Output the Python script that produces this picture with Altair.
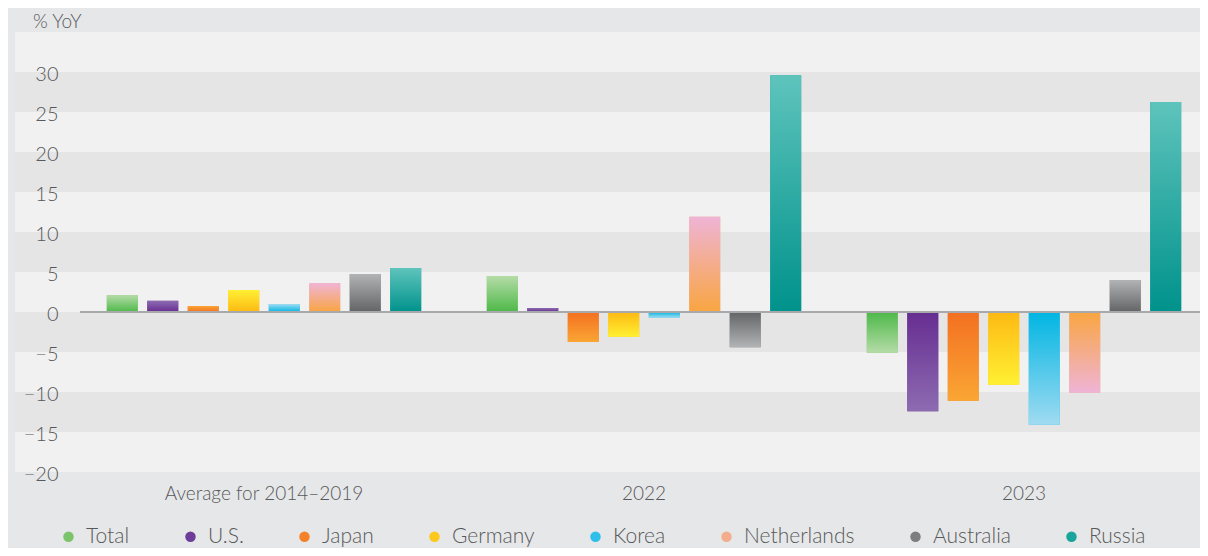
import altair as alt
import pandas as pd

# ---------------- data ----------------
groups = ["Average for 2014–2019", "2022", "2023"]
countries = ["Total", "U.S.", "Japan", "Germany", "Korea", "Netherlands", "Australia", "Russia"]
avg_vals = [2.1, 1.4, 0.75, 2.75, 1.0, 3.6, 4.75, 5.5]
y2022_vals = [4.5, 0.5, -3.75, -3.1, -0.7, 11.9, -4.4, 29.6]
y2023_vals = [-5.1, -12.4, -11.1, -9.1, -14.1, -10.1, 4.0, 26.25]

# colour at the zero line and at the tip of each bar
zero_colors = ["#4db848", "#662d91", "#f37021", "#fdb913", "#00b5e2", "#f9a541", "#636466", "#00928c"]
tip_colors = ["#b5dca8", "#8d6bb1", "#faa634", "#fff033", "#a0dbf2", "#efb4d6", "#b2b3b5", "#5ec4bc"]
legend_colors = ["#7cc46b", "#6e3d99", "#f5822a", "#fdc81e", "#2ec0ea", "#f4ad8c", "#7d7e80", "#1aa59c"]

band_lo = [-20, -15, -10, -5, 0, 5, 10, 15, 20, 25, 30]
band_hi = [-15, -10, -5, 0, 5, 10, 15, 20, 25, 30, 35]
band_shade = ["light", "dark", "light", "dark", "light", "dark", "light", "dark", "light", "dark", "light"]
y_ticks = [-20, -15, -10, -5, 0, 5, 10, 15, 20, 25, 30]

rows = []
for g, vals in zip(groups, [avg_vals, y2022_vals, y2023_vals]):
    for c, v in zip(countries, vals):
        rows.append({"group": g, "country": c, "value": v})
df = pd.DataFrame(rows)
bands = pd.DataFrame({"lo": band_lo, "hi": band_hi, "shade": band_shade})

FONT = "Lato"
TXT = "#58595b"
W, H = 1185, 440

yscale = alt.Scale(domain=[-20, 35], nice=False, zero=False)

band_layer = alt.Chart(bands).mark_rect().encode(
    y=alt.Y("lo:Q", scale=yscale, axis=alt.Axis(
        values=y_ticks, orient="left", offset=-43, labelPadding=0, zindex=1,
        domain=False, ticks=False, grid=False, title=None,
        labelFontSize=20, labelFont=FONT, labelFontWeight=300, labelColor=TXT,
        labelBaseline="middle", labelOffset=2)),
    y2="hi:Q",
    color=alt.Color("shade:N", scale=alt.Scale(domain=["light", "dark"], range=["#f1f1f1", "#e5e5e5"]), legend=None),
)

xenc = alt.X("group:N", sort=groups,
             scale=alt.Scale(range=[59, 1199], paddingInner=0, paddingOuter=0),
             axis=alt.Axis(title=None, domain=False, ticks=False, labelAngle=0,
                           labelFontSize=19, labelFont=FONT, labelFontWeight=300,
                           labelColor=TXT, labelPadding=12, labelLimit=0))
xoff = alt.XOffset("country:N", sort=countries,
                   scale=alt.Scale(paddingInner=0.235, paddingOuter=0.81))

base = alt.Chart(df)

solid = base.mark_bar().encode(
    x=xenc, xOffset=xoff,
    y=alt.Y("value:Q", scale=yscale),
    y2=alt.datum(0),
    color=alt.Color("country:N", sort=countries,
                    scale=alt.Scale(domain=countries, range=legend_colors),
                    legend=alt.Legend(title=None, orient="none", direction="horizontal",
                                      legendX=43, legendY=494, padding=0,
                                      symbolType="circle", symbolSize=110, symbolStrokeWidth=0,
                                      labelFontSize=21, labelFont=FONT, labelFontWeight=300,
                                      labelColor=TXT, labelOffset=7, columnPadding=50)),
)

grad_layers = []
for c, zc, tc in zip(countries, zero_colors, tip_colors):
    pos_grad = alt.Gradient(gradient="linear", x1=0, x2=0, y1=0, y2=1,
                            stops=[alt.GradientStop(color=tc, offset=0),
                                   alt.GradientStop(color=zc, offset=1)])
    neg_grad = alt.Gradient(gradient="linear", x1=0, x2=0, y1=0, y2=1,
                            stops=[alt.GradientStop(color=zc, offset=0),
                                   alt.GradientStop(color=tc, offset=1)])
    for grad, cond in [(pos_grad, f"datum.country === '{c}' && datum.value >= 0"),
                       (neg_grad, f"datum.country === '{c}' && datum.value < 0")]:
        grad_layers.append(
            base.transform_filter(cond).mark_bar(fill=grad).encode(
                x=xenc, xOffset=xoff,
                y=alt.Y("value:Q", scale=yscale),
                y2=alt.datum(0),
            )
        )

zero_rule = alt.Chart(df).mark_rule(color="#a7a9ac", strokeWidth=2).encode(
    y=alt.datum(0), x=alt.value(65), x2=alt.value(W)
)

chart = alt.layer(band_layer, solid, *grad_layers, zero_rule).resolve_scale(
    color="independent"
).properties(
    width=W, height=H,
    autosize=alt.AutoSizeParams(type="none"),
    padding={"left": 7, "top": 24, "right": 0, "bottom": 76},
    background="#e6e7e8",
    title=alt.Title("% YoY", anchor="start", fontSize=19, font=FONT, fontWeight=300,
                    color=TXT, dx=18, offset=0),
).configure_view(stroke=None, fill=None)

chart.save("out.html", embed_options={"renderer": "svg", "actions": False})
